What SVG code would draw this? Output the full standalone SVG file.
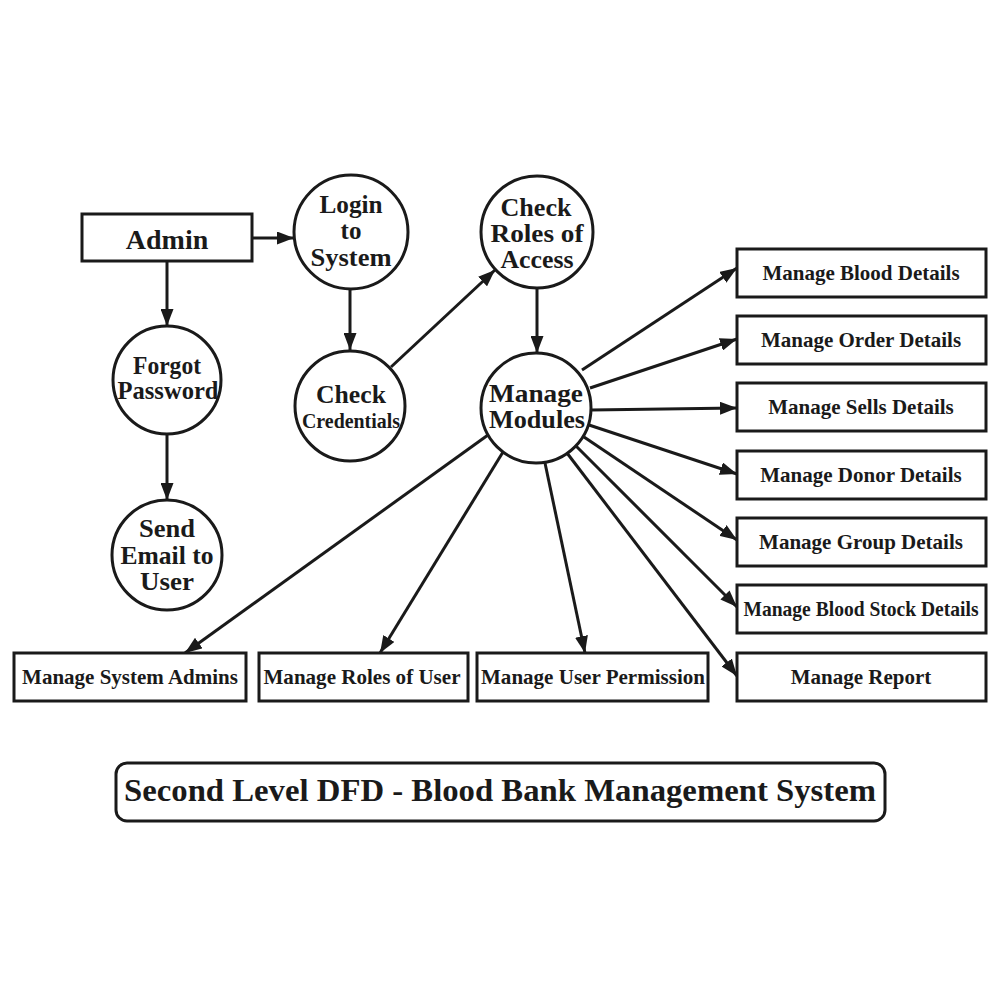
<svg xmlns="http://www.w3.org/2000/svg" width="1000" height="1000" viewBox="0 0 1000 1000">
<defs>
<marker id="ah" markerWidth="17" markerHeight="13" refX="17" refY="6.5" orient="auto" markerUnits="userSpaceOnUse">
<path d="M0,0 L17,6.5 L0,13 Z" fill="#1a1a1a"/>
</marker>
<style>
.box{fill:#fff;stroke:#1a1a1a;stroke-width:3}
.proc{fill:#fff;stroke:#1a1a1a;stroke-width:3}
.t{font-family:"Liberation Serif","Times New Roman",serif;font-weight:bold;fill:#1a1a1a;text-anchor:middle}
.c{font-size:25px}
.b{font-size:21px}
.edge{stroke:#1a1a1a;stroke-width:3;fill:none;marker-end:url(#ah)}
</style>
</defs>
<rect width="1000" height="1000" fill="#fff"/>
<g id="connectors">
<line class="edge" x1="252" y1="238" x2="294" y2="238"/>
<line class="edge" x1="167" y1="261" x2="167" y2="326"/>
<line class="edge" x1="167" y1="434" x2="167" y2="500"/>
<line class="edge" x1="350" y1="289" x2="350" y2="350"/>
<line class="edge" x1="391" y1="367" x2="495" y2="270"/>
<line class="edge" x1="537" y1="289" x2="537" y2="353"/>
<line class="edge" x1="582" y1="370" x2="737" y2="268"/>
<line class="edge" x1="590" y1="388" x2="737" y2="339"/>
<line class="edge" x1="591" y1="410" x2="737" y2="408"/>
<line class="edge" x1="589" y1="425" x2="737" y2="474"/>
<line class="edge" x1="584" y1="437" x2="737" y2="540"/>
<line class="edge" x1="576" y1="446" x2="737" y2="607"/>
<line class="edge" x1="567" y1="453" x2="737" y2="676"/>
<line class="edge" x1="545" y1="463" x2="585" y2="653"/>
<line class="edge" x1="503" y1="452" x2="380" y2="653"/>
<line class="edge" x1="488" y1="435" x2="185" y2="653"/>
</g>
<g id="admin"><rect class="box" x="82" y="214" width="170" height="47"/><text class="t" x="167" y="249" font-size="28">Admin</text></g>
<g id="login"><circle class="proc" cx="351" cy="232" r="57"/><text class="t c" x="351" y="213" textLength="63" lengthAdjust="spacingAndGlyphs">Login</text><text class="t c" x="351" y="239">to</text><text class="t c" x="351" y="266" textLength="81" lengthAdjust="spacingAndGlyphs">System</text></g>
<g id="forgot"><circle class="proc" cx="167" cy="380" r="54"/><text class="t c" x="167" y="374" textLength="68" lengthAdjust="spacingAndGlyphs">Forgot</text><text class="t c" x="168" y="399" textLength="101" lengthAdjust="spacingAndGlyphs">Password</text></g>
<g id="sendemail"><circle class="proc" cx="167" cy="555" r="55"/><text class="t c" x="167" y="537" textLength="56" lengthAdjust="spacingAndGlyphs">Send</text><text class="t c" x="167" y="564" textLength="93" lengthAdjust="spacingAndGlyphs">Email to</text><text class="t c" x="167" y="590" textLength="54" lengthAdjust="spacingAndGlyphs">User</text></g>
<g id="checkcred"><circle class="proc" cx="350" cy="406" r="55"/><text class="t c" x="351" y="403" textLength="70" lengthAdjust="spacingAndGlyphs">Check</text><text class="t" x="351" y="428" font-size="21" textLength="98" lengthAdjust="spacingAndGlyphs">Credentials</text></g>
<g id="checkroles"><circle class="proc" cx="537" cy="232" r="56"/><text class="t c" x="536" y="216" textLength="71" lengthAdjust="spacingAndGlyphs">Check</text><text class="t c" x="537" y="242" textLength="93" lengthAdjust="spacingAndGlyphs">Roles of</text><text class="t c" x="537" y="268" textLength="73" lengthAdjust="spacingAndGlyphs">Access</text></g>
<g id="modules"><circle class="proc" cx="536" cy="408" r="55"/><text class="t c" x="536" y="402" textLength="94" lengthAdjust="spacingAndGlyphs">Manage</text><text class="t c" x="537" y="428" textLength="96" lengthAdjust="spacingAndGlyphs">Modules</text></g>
<g id="blood"><rect class="box" x="737" y="249" width="249" height="48"/><text class="t b" x="861" y="280">Manage Blood Details</text></g>
<g id="order"><rect class="box" x="737" y="316" width="249" height="48"/><text class="t b" x="861" y="347">Manage Order Details</text></g>
<g id="sells"><rect class="box" x="737" y="383" width="249" height="48"/><text class="t b" x="861" y="414">Manage Sells Details</text></g>
<g id="donor"><rect class="box" x="737" y="451" width="249" height="48"/><text class="t b" x="861" y="482">Manage Donor Details</text></g>
<g id="group"><rect class="box" x="737" y="518" width="249" height="48"/><text class="t b" x="861" y="549">Manage Group Details</text></g>
<g id="stock"><rect class="box" x="737" y="585" width="249" height="48"/><text class="t b" x="861" y="616" textLength="235" lengthAdjust="spacingAndGlyphs">Manage Blood Stock Details</text></g>
<g id="report"><rect class="box" x="737" y="653" width="249" height="48"/><text class="t b" x="861" y="684">Manage Report</text></g>
<g id="sysadmins"><rect class="box" x="14" y="653" width="232" height="48"/><text class="t b" x="130" y="684">Manage System Admins</text></g>
<g id="rolesuser"><rect class="box" x="259" y="653" width="209" height="48"/><text class="t b" x="362" y="684" textLength="197" lengthAdjust="spacingAndGlyphs">Manage Roles of User</text></g>
<g id="permission"><rect class="box" x="477" y="653" width="231" height="48"/><text class="t b" x="593" y="684" textLength="224" lengthAdjust="spacingAndGlyphs">Manage User Permission</text></g>
<g id="title"><rect class="box" x="116" y="763" width="769" height="58" rx="11"/><text class="t" x="500" y="801" font-size="31" textLength="752" lengthAdjust="spacingAndGlyphs">Second Level DFD - Blood Bank Management System</text></g>
</svg>
